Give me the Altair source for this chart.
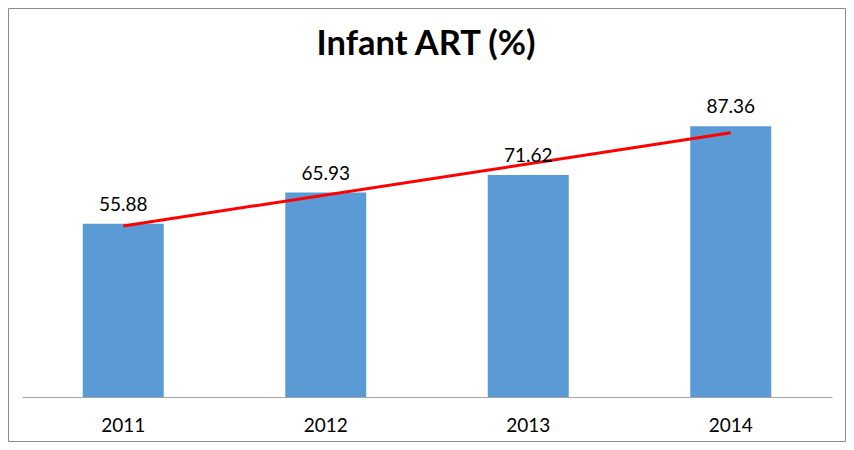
import altair as alt
import pandas as pd

years = [2011, 2012, 2013, 2014]
values = [55.88, 65.93, 71.62, 87.36]
chart_title = ["Infant ART (%)"]

df = pd.DataFrame({"year": years, "value": values})
title_df = pd.DataFrame({"t": chart_title})

FONT = "Lato"

base = alt.Chart(df)

x = alt.X("year:O", title=None,
          scale=alt.Scale(paddingInner=0.6, paddingOuter=0.3),
          axis=alt.Axis(labelAngle=0, labelFontSize=19, labelFont=FONT,
                        labelColor="#000000", labelPadding=19, ticks=False,
                        domainColor="#A6A6A6", domainWidth=1))
y = alt.Y("value:Q", title=None, scale=alt.Scale(domain=[0, 100]), axis=None)

bars = base.mark_bar(color="#5B9BD5").encode(x=x, y=y)

labels = base.mark_text(dy=-13, fontSize=19, font=FONT, color="#000000",
                        baseline="alphabetic").encode(
    x=x, y=y, text=alt.Text("value:Q", format=".2f"))

trend = base.transform_regression("year", "value").mark_line(
    color="#FF0000", strokeWidth=3).encode(x=x, y=y)

border = alt.Chart(title_df).mark_rect(fill=None, stroke="#8C8C8C", strokeWidth=1,
                                       clip=False).encode(
    x=alt.value(-13.5), x2=alt.value(823.5),
    y=alt.value(-78.5), y2=alt.value(354.5))

title = alt.Chart(title_df).mark_text(
    font=FONT, fontSize=34.5, fontWeight="bold", color="#000000",
    baseline="alphabetic", align="center").encode(
    text="t:N", x=alt.value(404), y=alt.value(-32))

chart = alt.layer(border, bars, trend, labels, title).properties(
    width=810, height=310,
    autosize=alt.AutoSizeParams(type="none"),
    padding={"left": 14, "top": 79, "right": 14, "bottom": 45},
).configure_view(stroke=None)

chart.save("out.html", embed_options={"renderer": "svg", "actions": False})
